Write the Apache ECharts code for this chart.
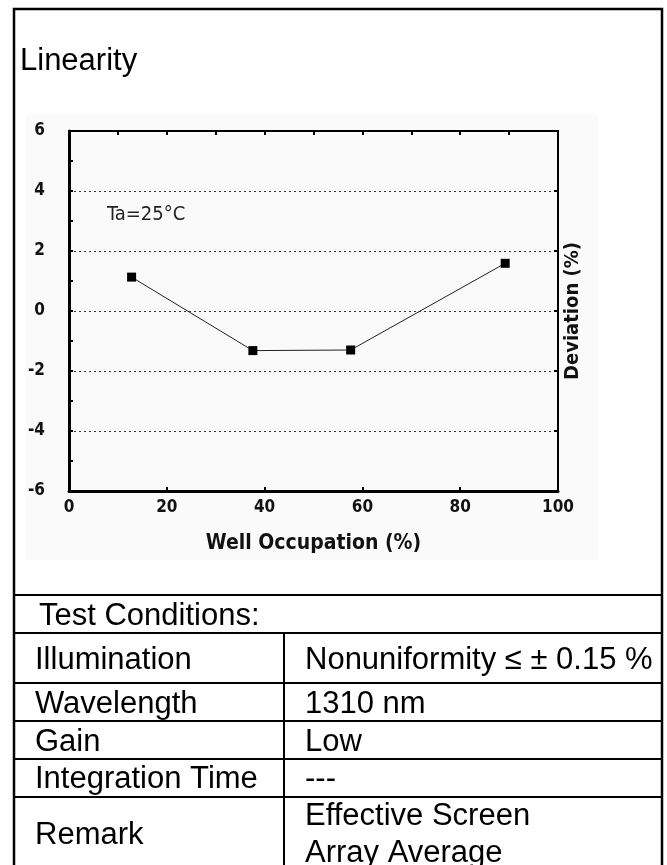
<!DOCTYPE html>
<html>
<head>
<meta charset="utf-8">
<title>Linearity</title>
<script src="https://cdn.jsdelivr.net/npm/echarts@6/dist/echarts.min.js"></script>
<style>
  html, body { margin: 0; padding: 0; background: #fff; }
  #chart { width: 667px; height: 865px; }
</style>
</head>
<body>
<div id="chart"></div>
<script>
// data
const occupation = [12.8, 37.6, 57.6, 89.2]
const deviation = [1.13, -1.32, -1.30, 1.59]
const conditionNames = ['Illumination', 'Wavelength', 'Gain', 'Integration Time', 'Remark']
const conditionValues = ['Nonuniformity ≤ ± 0.15 %', '1310 nm', 'Low', '---', 'Effective Screen\nArray Average']

const plotFont = "'Liberation Sans Narrow', 'DejaVu Sans Condensed', 'Liberation Sans', Arial, sans-serif"
const tableFont = "'Liberation Sans', Arial, sans-serif"

// table layout
const leftX = 14, rightX = 662, midX = 284
const rowLines = [595, 633, 683, 721, 759, 797]
const rowCenters = [659, 703, 741, 778, 834]

let graphics = [
  // faint background of the pasted plot image
  { type: 'rect', z: -10, shape: { x: 26, y: 114, width: 572, height: 446 }, style: { fill: '#fafafa' } },
  { type: 'text', x: 20, y: 61, style: { text: 'Linearity', font: '31px ' + tableFont, fill: '#000', verticalAlign: 'middle' } },
  { type: 'text', x: 39, y: 616, style: { text: 'Test Conditions:', font: '31px ' + tableFont, fill: '#000', verticalAlign: 'middle' } },
  { type: 'text', x: 107, y: 215, style: { text: 'Ta=25°C', font: '500 20px ' + plotFont, fill: '#222', verticalAlign: 'middle' } },
  // outer frame
  { type: 'polyline', shape: { points: [[leftX, 865], [leftX, 9], [rightX, 9], [rightX, 865]] }, style: { stroke: '#000', lineWidth: 2.5, fill: null } },
  { type: 'line', shape: { x1: midX, y1: rowLines[1], x2: midX, y2: 865 }, style: { stroke: '#000', lineWidth: 2 } }
]
rowLines.forEach(y => {
  graphics.push({ type: 'line', shape: { x1: leftX, y1: y, x2: rightX, y2: y }, style: { stroke: '#000', lineWidth: 2 } })
})
conditionNames.forEach((name, i) => {
  graphics.push({ type: 'text', x: 35, y: rowCenters[i] + 1, style: { text: name, font: '31px ' + tableFont, fill: '#000', verticalAlign: 'middle' } })
  graphics.push({ type: 'text', x: 305, y: rowCenters[i] + 1, style: { text: conditionValues[i], font: '31px ' + tableFont, fill: '#000', verticalAlign: 'middle', lineHeight: 37 } })
})

const tickLabel = { fontFamily: plotFont, fontWeight: 'bold', fontSize: 17, color: '#111' }

let option = {
  animation: false,
  backgroundColor: '#fff',
  grid: { left: 69, top: 131, width: 489, height: 360, show: false },
  xAxis: [
    {
      type: 'value', position: 'bottom', min: 0, max: 100, interval: 20,
      name: 'Well Occupation (%)', nameLocation: 'middle', nameGap: 42,
      nameTextStyle: { fontFamily: plotFont, fontWeight: 'bold', fontSize: 21, color: '#111' },
      axisLine: { onZero: false, lineStyle: { color: '#000', width: 3 } },
      axisTick: { inside: true, length: 4, lineStyle: { color: '#000', width: 2 } },
      axisLabel: Object.assign({ margin: 8 }, tickLabel),
      splitLine: { show: false }
    },
    {
      type: 'value', position: 'top', min: 0, max: 100, interval: 10,
      axisLine: { onZero: false, lineStyle: { color: '#000', width: 2 } },
      axisTick: { inside: true, length: 4, lineStyle: { color: '#000', width: 2 } },
      axisLabel: { show: false },
      splitLine: { show: false }
    }
  ],
  yAxis: [
    {
      type: 'value', position: 'left', min: -6, max: 6, interval: 2,
      axisLine: { onZero: false, lineStyle: { color: '#000', width: 3 } },
      axisTick: { inside: true, length: 4, lineStyle: { color: '#000', width: 2 } },
      minorTick: { show: true, splitNumber: 2, length: 4, lineStyle: { color: '#000', width: 2 } },
      axisLabel: Object.assign({ margin: 24 }, tickLabel),
      splitLine: { lineStyle: { color: '#333', width: 1, type: [2, 3] } }
    },
    {
      type: 'value', position: 'right', min: -6, max: 6, interval: 2,
      name: 'Deviation (%)', nameLocation: 'middle', nameGap: 5,
      nameTextStyle: { fontFamily: plotFont, fontWeight: 'bold', fontSize: 20, color: '#111' },
      axisLine: { onZero: false, lineStyle: { color: '#000', width: 2 } },
      axisTick: { inside: true, length: 4, lineStyle: { color: '#000', width: 2 } },
      axisLabel: { show: false },
      splitLine: { show: false }
    }
  ],
  series: [
    {
      type: 'line',
      xAxisIndex: 0,
      yAxisIndex: 0,
      data: occupation.map((x, i) => [x, deviation[i]]),
      symbol: 'rect',
      symbolSize: 9,
      itemStyle: { color: '#000' },
      lineStyle: { color: '#222', width: 1 }
    }
  ],
  graphic: graphics
}

let chartsInstance = echarts.init(document.getElementById('chart'))
chartsInstance.setOption(option)
</script>
</body>
</html>
